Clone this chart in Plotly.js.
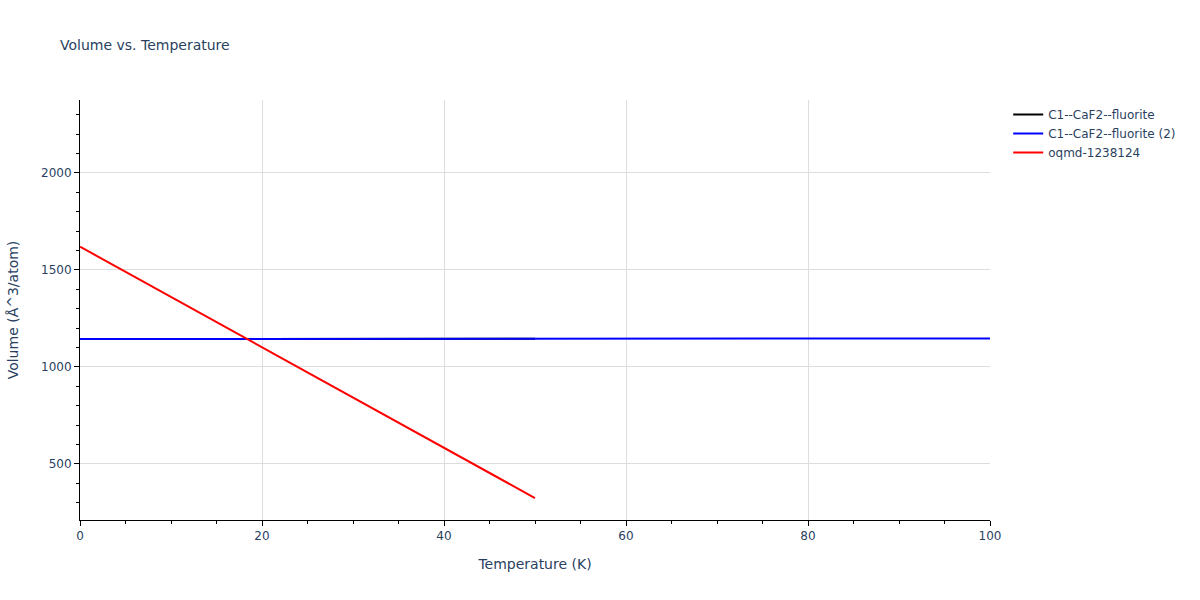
<!DOCTYPE html>
<html>
<head>
<meta charset="utf-8">
<script src="https://cdn.plot.ly/plotly-3.0.1.min.js"></script>
<style>html,body{margin:0;padding:0;background:#fff;}#chart{width:1200px;height:600px;}</style>
</head>
<body>
<div id="chart"></div>
<script>
const seriesNames = ["C1--CaF2--fluorite", "C1--CaF2--fluorite (2)", "oqmd-1238124"];
const seriesColors = ["black", "blue", "red"];
const tempBlack = [0, 50];
const volBlack = [1144, 1145.5];
const tempBlue = [0, 100];
const volBlue = [1144, 1147];
const tempRed = [0, 50];
const volRed = [1620, 324];

const traces = [
  {x: tempBlack, y: volBlack, name: seriesNames[0], mode: "lines", line: {color: seriesColors[0], width: 2}},
  {x: tempBlue, y: volBlue, name: seriesNames[1], mode: "lines", line: {color: seriesColors[1], width: 2}},
  {x: tempRed, y: volRed, name: seriesNames[2], mode: "lines", line: {color: seriesColors[2], width: 2}}
];

const layout = {
  width: 1200, height: 600,
  margin: {l: 80, r: 210, t: 100, b: 80},
  paper_bgcolor: "white", plot_bgcolor: "white",
  font: {family: "Verdana, 'DejaVu Sans', sans-serif", color: "#2a3f5f", size: 12},
  title: {text: "Volume vs. Temperature", x: 0.05, xanchor: "left", y: 0.925, yanchor: "middle", font: {size: 14, color: "#2a3f5f"}},
  showlegend: true,
  legend: {x: 1.02, y: 1, xanchor: "left", yanchor: "top", font: {size: 12}},
  xaxis: {
    title: {text: "Temperature (K)", font: {size: 14}, standoff: 16},
    automargin: true,
    range: [0, 100], dtick: 20,
    showline: true, linecolor: "black", linewidth: 1,
    ticks: "outside", ticklen: 5, tickcolor: "black",
    gridcolor: "#dddddd", zeroline: false,
    minor: {dtick: 5, ticks: "outside", ticklen: 3, tickcolor: "black", showgrid: false}
  },
  yaxis: {
    title: {text: "Volume (Å^3/atom)", font: {size: 14}, standoff: 19},
    automargin: true,
    range: [211, 2376], dtick: 500,
    showline: true, linecolor: "black", linewidth: 1,
    ticks: "outside", ticklen: 5, tickcolor: "black",
    gridcolor: "#dddddd", zeroline: false,
    minor: {dtick: 100, ticks: "outside", ticklen: 3, tickcolor: "black", showgrid: false}
  }
};

Plotly.newPlot("chart", traces, layout, {displayModeBar: false});
</script>
</body>
</html>
